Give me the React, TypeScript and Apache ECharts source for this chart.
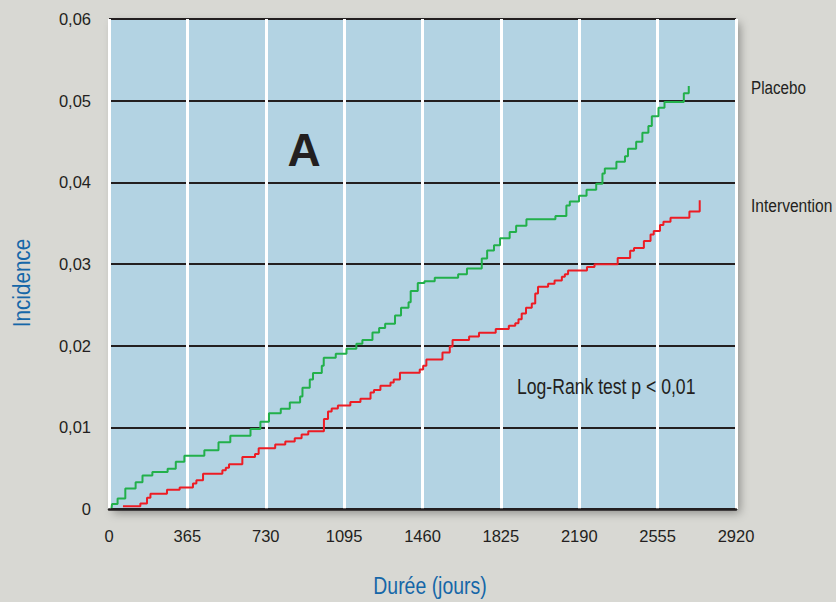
import React, { useEffect, useRef } from "react";
import * as echarts from "echarts";

// Time axis (days)
const xTicks = [0, 365, 730, 1095, 1460, 1825, 2190, 2555, 2920];
const yTicks = ["0", "0,01", "0,02", "0,03", "0,04", "0,05", "0,06"];

// Placebo (green) step curve: day at which the cumulative incidence jumps, and the new value
const placeboDays = [
  12, 14, 40, 76, 124, 156, 202, 273, 311, 351, 444, 510, 565, 659, 705, 745, 800, 842,
  890, 901, 935, 950, 991, 1000, 1056, 1106, 1152, 1180, 1227, 1258, 1286, 1332, 1360,
  1395, 1405, 1438, 1469, 1517, 1626, 1667, 1736, 1761, 1793, 1821, 1866, 1896, 1944,
  2079, 2130, 2146, 2189, 2224, 2269, 2298, 2309, 2363, 2403, 2417, 2455, 2484, 2512,
  2528, 2559, 2587, 2677, 2700,
];
const placeboIncidence = [
  0.0001, 0.0006, 0.0013, 0.0025, 0.00327, 0.00409, 0.00454, 0.00494, 0.0058, 0.00653,
  0.00718, 0.00816, 0.00898, 0.0098, 0.01067, 0.01173, 0.01228, 0.01305, 0.01379, 0.01485,
  0.01587, 0.01665, 0.01754, 0.01852, 0.01901, 0.01962, 0.02023, 0.02069, 0.02161, 0.02215,
  0.02268, 0.02369, 0.02464, 0.02533, 0.02668, 0.02766, 0.0279, 0.02831, 0.02876, 0.02944,
  0.03067, 0.03165, 0.03231, 0.03316, 0.03393, 0.03467, 0.03549, 0.03589, 0.03715, 0.03766,
  0.03837, 0.0391, 0.03983, 0.04108, 0.04168, 0.04253, 0.04319, 0.04412, 0.04498, 0.04608,
  0.0469, 0.04809, 0.04914, 0.04984, 0.0509, 0.05179,
];

// Intervention (red) step curve
const interventionDays = [
  65, 146, 177, 193, 270, 329, 391, 407, 438, 528, 544, 559, 621, 680, 697, 774, 821, 865,
  897, 928, 1001, 1020, 1037, 1066, 1124, 1171, 1218, 1234, 1264, 1311, 1326, 1355, 1447,
  1463, 1478, 1553, 1587, 1600, 1677, 1723, 1801, 1862, 1892, 1907, 1922, 1942, 1969,
  1985, 1998, 2045, 2075, 2109, 2123, 2138, 2226, 2261, 2369, 2427, 2445, 2491, 2522,
  2537, 2566, 2582, 2615, 2703, 2751,
];
const interventionIncidence = [
  0.00033, 0.00066, 0.00139, 0.00188, 0.00237, 0.00262, 0.00311, 0.00351, 0.00433, 0.00473,
  0.00506, 0.00547, 0.00637, 0.00674, 0.00745, 0.0079, 0.00827, 0.00867, 0.00913, 0.00953,
  0.01103, 0.01194, 0.01231, 0.01267, 0.0131, 0.0135, 0.01428, 0.01457, 0.01509, 0.0155,
  0.01587, 0.01669, 0.01709, 0.01754, 0.01831, 0.01917, 0.0199, 0.02069, 0.02113, 0.02158,
  0.02203, 0.02243, 0.02276, 0.02322, 0.02394, 0.02464, 0.02516, 0.02639, 0.0272, 0.02757,
  0.02798, 0.02843, 0.02876, 0.0292, 0.02963, 0.02997, 0.03075, 0.03161, 0.03195, 0.03283,
  0.0336, 0.03403, 0.03479, 0.03516, 0.03567, 0.03643, 0.03781,
];

const seriesNames = ["Placebo", "Intervention"];
const panelLabel = "A";
const testLabel = "Log-Rank test p < 0,01";
const xTitle = "Durée (jours)";
const yTitle = "Incidence";

const SANS = '"Liberation Sans", Arial, sans-serif';
const TXT = "#231f20";
const BLUE = "#1567a8";

export default function App() {
  const ref = useRef<HTMLDivElement>(null);

  useEffect(() => {
    if (!ref.current) return;
    const chart = echarts.init(ref.current, null, { renderer: "svg" });
    const pl = placeboDays.map((d, i) => [d, placeboIncidence[i]]);
    const iv = interventionDays.map((d, i) => [d, interventionIncidence[i]]);

    const txt = (
      text: string,
      x: number,
      y: number,
      size: number,
      sx: number,
      fill: string,
      align: string,
      extra: any = {}
    ) => ({
      type: "text",
      x,
      y,
      scaleX: sx,
      z: 10,
      ...extra,
      style: { text, fill, fontSize: size, fontFamily: SANS, align, verticalAlign: "middle", ...(extra.style || {}) },
    });

    chart.setOption({
      animation: false,
      backgroundColor: "#d8d8d3",
      grid: {
        show: true,
        left: 109,
        right: 100,
        top: 19,
        bottom: 93,
        backgroundColor: "#b3d3e3",
        borderWidth: 0,
        shadowColor: "rgba(0,0,0,0.35)",
        shadowBlur: 10,
        shadowOffsetX: 4,
        shadowOffsetY: 4,
      },
      xAxis: {
        type: "value",
        min: 0,
        max: 2920,
        interval: 365,
        axisLine: { show: true, onZero: false, lineStyle: { color: TXT, width: 2.5 } },
        axisTick: { show: false },
        axisLabel: {
          margin: 18,
          color: TXT,
          fontSize: 16.5,
          fontFamily: SANS,
          formatter: (v: number) => String(xTicks.find((t) => t === v) ?? v),
        },
        splitLine: { show: true, lineStyle: { color: "#ffffff", width: 3 } },
      },
      yAxis: {
        type: "value",
        min: 0,
        max: 0.06,
        interval: 0.01,
        axisLine: { show: false },
        axisTick: { show: false },
        axisLabel: {
          margin: 18,
          color: TXT,
          fontSize: 16.5,
          fontFamily: SANS,
          formatter: (v: number) => yTicks[Math.round(v * 100)] ?? "",
        },
        splitLine: { show: true, lineStyle: { color: TXT, width: 2 } },
      },
      series: [
        {
          name: seriesNames[0],
          type: "line",
          step: "end",
          data: pl,
          showSymbol: false,
          lineStyle: { color: "#22b04b", width: 2 },
          z: 5,
        },
        {
          name: seriesNames[1],
          type: "line",
          step: "end",
          data: iv,
          showSymbol: false,
          lineStyle: { color: "#ed1c24", width: 2 },
          z: 5,
        },
      ],
      graphic: [
        txt(seriesNames[0], 751, 87, 19, 0.8, TXT, "left"),
        txt(seriesNames[1], 751, 205, 19, 0.82, TXT, "left"),
        txt(testLabel, 517, 386, 22, 0.8, TXT, "left"),
        txt(panelLabel, 304, 150, 46, 1, TXT, "center", { style: { fontWeight: "bold" } }),
        txt(xTitle, 430, 586, 24, 0.81, BLUE, "center"),
        txt(yTitle, 22, 283, 24, 0.86, BLUE, "center", { rotation: Math.PI / 2 }),
      ],
    });

    return () => chart.dispose();
  }, []);

  return (
    <div
      ref={ref}
      style={{ position: "absolute", left: 0, top: 0, width: 836, height: 602 }}
    />
  );
}
